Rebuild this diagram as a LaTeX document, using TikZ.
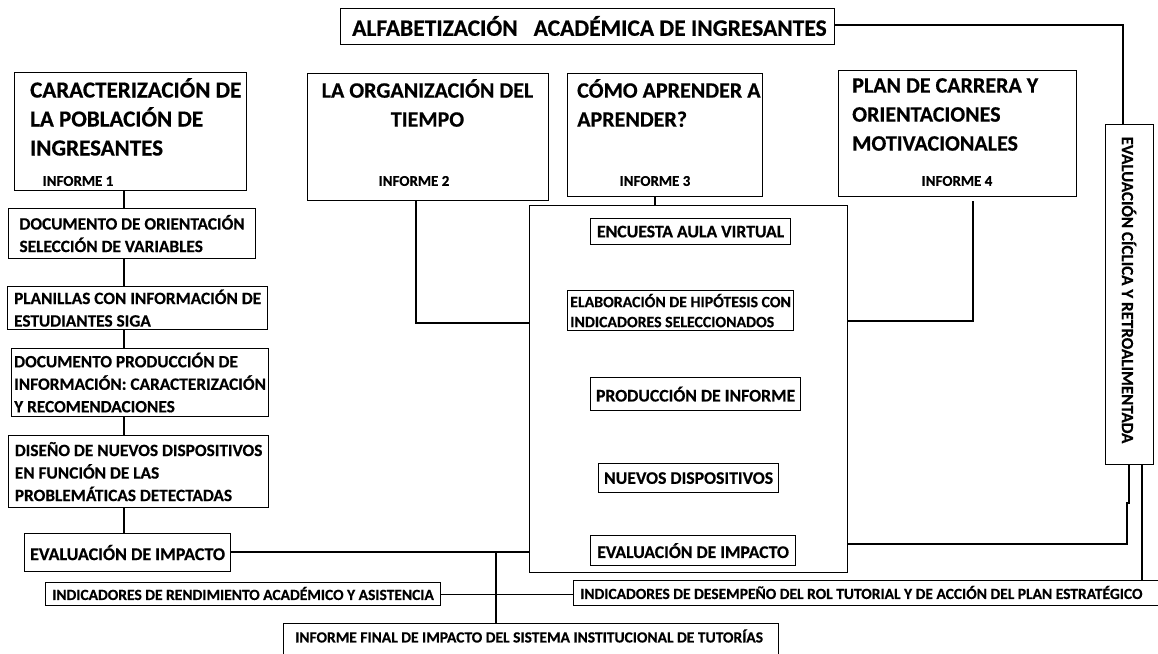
\documentclass[tikz,border=0pt]{standalone}
\usepackage{fontspec}
\setmainfont{Carlito}[BoldFeatures={FakeBold=0.5}]
\usetikzlibrary{positioning}

\tikzset{
  caja/.style={draw, line width=1.2pt, anchor=north west, inner sep=0pt},
  tcaja/.style={caja, align=left, font=\bfseries\fontsize{17.3}{22.5}\selectfont},
  mcaja/.style={caja, align=left, font=\bfseries\fontsize{17.7}{22.5}\selectfont},
  titular/.style={inner sep=0pt, align=left, font=\bfseries\fontsize{22}{29}\selectfont},
  informe/.style={inner sep=0pt, font=\bfseries\fontsize{15}{17}\selectfont},
  chico/.style={inner sep=0pt, font=\bfseries\fontsize{15.5}{17}\selectfont},
  linea/.style={line width=1.2pt}
}

\begin{document}
\begin{tikzpicture}[x=1pt,y=-1pt]
\useasboundingbox (0,0) rectangle (1158,653);

% titulo general
\node[caja, minimum width=494pt, minimum height=36pt] (alfa) at (340,8) {};
\node[inner sep=0pt, anchor=west, font=\bfseries\fontsize{23.5}{26}\selectfont] (alfat) at (352,26) {ALFABETIZACIÓN\ \ \ ACADÉMICA DE INGRESANTES};

% los cuatro informes
\node[caja, minimum width=232pt, minimum height=118pt] (c1) at (14,72) {};
\node[titular, anchor=north west, font=\bfseries\fontsize{23}{29}\selectfont] (c1t) at (30,78) {CARACTERIZACIÓN DE\\LA POBLACIÓN DE\\INGRESANTES};
\node[informe] (i1) at (78,181) {INFORME 1};

\node[caja, minimum width=241pt, minimum height=127pt] (c2) at (307,73) {};
\node[titular, anchor=north, align=center] (c2t) at (427.5,79) {LA ORGANIZACIÓN DEL\\TIEMPO};
\node[informe] (i2) at (414,181) {INFORME 2};

\node[caja, minimum width=195pt, minimum height=123pt] (c3) at (567,73) {};
\node[titular, anchor=north west] (c3t) at (577,79) {CÓMO APRENDER A\\APRENDER?};
\node[informe] (i3) at (655,181) {INFORME 3};

\node[caja, minimum width=238pt, minimum height=126pt] (c4) at (838,70) {};
\node[titular, anchor=north west] (c4t) at (852,78) {PLAN DE CARRERA Y\\ORIENTACIONES\\MOTIVACIONALES};
\node[informe] (i4) at (957,181) {INFORME 4};

% evaluacion ciclica
\node[caja, minimum width=48pt, minimum height=340pt] (vbox) at (1105,124) {};
\node[inner sep=0pt, rotate=-90, font=\bfseries\fontsize{17}{19}\selectfont] (vboxt) at (1129,290) {EVALUACIÓN CÍCLICA Y RETROALIMENTADA};

% columna izquierda
\node[tcaja, minimum width=247pt, minimum height=50pt] (l1) at (8,208) {DOCUMENTO DE ORIENTACIÓN\\SELECCIÓN DE VARIABLES};
\node[tcaja, minimum width=260pt, minimum height=43pt] (l2) at (7,286) {PLANILLAS CON INFORMACIÓN DE\\ESTUDIANTES SIGA};
\node[tcaja, minimum width=257pt, minimum height=68pt] (l3) at (11,348) {DOCUMENTO PRODUCCIÓN DE\\INFORMACIÓN: CARACTERIZACIÓN\\Y RECOMENDACIONES};
\node[tcaja, minimum width=260pt, minimum height=72pt] (l4) at (8,435) {DISEÑO DE NUEVOS DISPOSITIVOS\\EN FUNCIÓN DE LAS\\PROBLEMÁTICAS DETECTADAS};
\node[mcaja, minimum width=206pt, minimum height=38pt, font=\bfseries\fontsize{18}{22}\selectfont] (l5) at (24,533) {EVALUACIÓN DE IMPACTO};

% recuadro central
\node[caja, minimum width=318pt, minimum height=367pt] (marco) at (529,205) {};
\node[mcaja, minimum width=200pt, minimum height=26pt] (enc) at (590,218) {ENCUESTA AULA VIRTUAL};
\node[mcaja, minimum width=226pt, minimum height=40pt, font=\bfseries\fontsize{15.8}{20}\selectfont] (hip) at (567,290) {ELABORACIÓN DE HIPÓTESIS CON\\INDICADORES SELECCIONADOS};
\node[mcaja, minimum width=210pt, minimum height=33pt] (prod) at (590,377) {PRODUCCIÓN DE INFORME};
\node[mcaja, minimum width=180pt, minimum height=29pt] (nuev) at (598,463) {NUEVOS DISPOSITIVOS};
\node[mcaja, minimum width=205pt, minimum height=30pt] (evc) at (590,535) {EVALUACIÓN DE IMPACTO};

% indicadores e informe final
\node[caja, minimum width=395pt, minimum height=23pt] (ind1) at (45,582) {};
\node[chico, anchor=west] (ind1t) at (52,593.5) {INDICADORES DE RENDIMIENTO ACADÉMICO Y ASISTENCIA};
\node[caja, minimum width=590pt, minimum height=25pt] (ind2) at (573,580) {};
\node[chico, anchor=west] (ind2t) at (580,592.5) {INDICADORES DE DESEMPEÑO DEL ROL TUTORIAL Y DE ACCIÓN DEL PLAN ESTRATÉGICO};
\node[caja, minimum width=495pt, minimum height=45pt] (final) at (283,623) {};
\node[chico, anchor=west] (finalt) at (295,636) {INFORME FINAL DE IMPACTO DEL SISTEMA INSTITUCIONAL DE TUTORÍAS};

% puntos de quiebre
\coordinate (col) at (124,0);
\coordinate (v1) at (1123,25);
\coordinate (j2) at (416,323);
\coordinate (j3) at (655,0);
\coordinate (j4) at (973,321);
\coordinate (j5) at (496,552);
\coordinate (j6) at (1129,503);
\coordinate (j7) at (1127,544);
\coordinate (j8) at (1142,0);

% conexiones
\draw[linea] (alfa.east |- v1) -- (v1) -- (v1 |- vbox.north);
\draw[linea] (col |- c1.south) -- (col |- l1.north);
\draw[linea] (col |- l1.south) -- (col |- l2.north);
\draw[linea] (col |- l2.south) -- (col |- l3.north);
\draw[linea] (col |- l3.south) -- (col |- l4.north);
\draw[linea] (col |- l4.south) -- (col |- l5.north);
\draw[linea] (j3 |- c3.south) -- (j3 |- marco.north);
\draw[linea] (j2 |- c2.south) -- (j2) -- (j2 -| marco.west);
\draw[linea] ([yshift=-4pt]j4 |- c4.south) -- (j4) -- (j4 -| marco.east);
\draw[linea] (l5.east |- j5) -- (j5 -| marco.west);
\draw[linea] (j5) -- (j5 |- final.north);
\draw[linea] (ind1.east) -- (ind1.east -| ind2.west);
\draw[linea] (j6 |- vbox.south) -- (j6) -- (j6 -| j7) -- (j7) -- (j7 -| marco.east);
\draw[linea] (j8 |- vbox.south) -- (j8 |- ind2.north);

\end{tikzpicture}
\end{document}
